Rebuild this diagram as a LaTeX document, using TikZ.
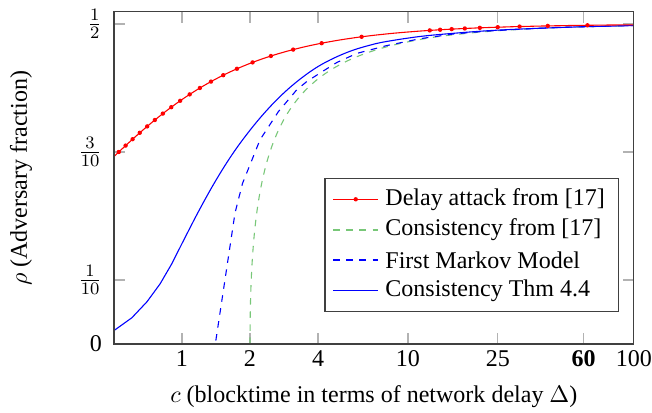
\documentclass[tikz,border=0pt]{standalone}
\usepackage{fontspec}
\setmainfont{Liberation Serif}
\definecolor{pssgreen}{rgb}{0.47,0.78,0.47}
\begin{document}
\begin{tikzpicture}[x=1.0948cm,y=10.304cm,
    font=\fontsize{11pt}{13pt}\selectfont,
    frame/.style={black!75,line width=0.5pt},
    tickmk/.style={gray!60,line width=0.6pt},
    delaycurve/.style={red,line width=0.5pt},
    psscurve/.style={pssgreen,dashed,line width=0.5pt},
    markovcurve/.style={blue,dashed,line width=0.5pt},
    thmcurve/.style={blue,line width=0.5pt}]
  \useasboundingbox (-2.6765,-0.1078) rectangle (6.9118,0.5375);
  % ticks, inside the box
  \foreach \t in {0,1,2,3.3219,4.6439,5.9069} {
    \draw[tickmk] (\t,0) -- (\t,0.0172);
    \draw[tickmk] (\t,0.519) -- (\t,0.5018);
  }
  \foreach \t in {0.1,0.3,0.5} {
    \draw[tickmk] (-1,\t) -- (-0.838,\t);
    \draw[tickmk] (6.6439,\t) -- (6.4819,\t);
  }
  % curves
  \begin{scope}
    \clip (-1,-0.006) rectangle (6.6439,0.519);
    \draw[psscurve] plot[domain=0:0.98995,samples=100]
      ({1-ln(1-\x*\x)/ln(2)},{\x/(1+\x)});
    \draw[markovcurve] plot coordinates {(-1,0) (0.49,0) (0.78,0.205)
      (0.89,0.251) (1.0,0.28) (1.147,0.319) (1.417,0.363) (1.686,0.397)
      (1.834,0.41) (2.054,0.425) (2.28,0.44) (2.57,0.454) (3,0.466)
      (3.5,0.477) (4,0.4845) (4.5,0.489) (5,0.492) (5.5,0.4945)
      (6,0.496) (6.644,0.4975)};
    \draw[thmcurve] plot coordinates {(-1,0.021) (-0.737,0.041)
      (-0.515,0.066) (-0.322,0.094) (-0.152,0.125) (0,0.157)}
      plot[smooth,tension=0.6] coordinates {(0,0.157) (0.25,0.2085)
      (0.5,0.256) (0.75,0.298) (1.0,0.334) (1.25,0.3655) (1.5,0.3925)
      (1.75,0.415) (2.0,0.4335) (2.25,0.4475) (2.5,0.4585) (2.75,0.4665)
      (3.0,0.4725) (3.5,0.4805) (4.0,0.4855) (4.5,0.4895) (5.0,0.4922)
      (5.5,0.4943) (6.0,0.496) (6.644,0.4975)};
    \draw[delaycurve] plot[domain=-1:6.6439,samples=120]
      (\x,{2/(2+1/pow(2,\x)+sqrt(4+1/pow(2,\x)^2))});
    \foreach \k in {30,...,49}
      \fill[red] ({ln(\k/100*(1-\k/100)/(1-2*\k/100))/ln(2)},{\k/100}) circle (1pt);
    \foreach \k in {491,...,498}
      \fill[red] ({ln(\k/1000*(1-\k/1000)/(1-2*\k/1000))/ln(2)},{\k/1000}) circle (1pt);
  \end{scope}
  \draw[frame] (-1,0) rectangle (6.6439,0.519);
  % tick labels
  \foreach \t/\lab [count=\i] in {0/1,1/2,2/4,3.3219/10,4.6439/25,5.9069/\textbf{60},6.6439/100}
    \node[anchor=base,inner sep=0pt] (xt\i) at (\t,-0.0355) {\lab};
  \foreach \t/\lab [count=\i] in {0/0,0.1/$\frac{1}{10}$,0.3/$\frac{3}{10}$,0.5/$\frac{1}{2}$}
    \node[anchor=east,inner sep=0pt] (yt\i) at (-1.17,\t) {\lab};
  % axis labels
  \node[anchor=base] (xlab) at (2.822,-0.0922) {$c$ (blocktime in terms of network delay $\Delta$)};
  \node[rotate=90] (ylab) at (-2.368,0.259) {$\rho$ (Adversary fraction)};
  % legend
  \draw[frame,fill=white] (2.103,0.0505) rectangle (6.416,0.2589);
  \draw[delaycurve] (2.225,0.2261) -- (2.885,0.2261);
  \fill[red] (2.555,0.2261) circle (1pt);
  \draw[psscurve] (2.225,0.1781) -- (2.885,0.1781);
  \draw[markovcurve] (2.225,0.1313) -- (2.885,0.1313);
  \draw[thmcurve] (2.225,0.0833) -- (2.885,0.0833);
  \node[anchor=west,inner sep=0pt] (legDelay) at (2.985,0.2261) {Delay attack from [17]};
  \node[anchor=west,inner sep=0pt] (legPss) at (2.985,0.1781) {Consistency from [17]};
  \node[anchor=west,inner sep=0pt] (legMarkov) at (2.985,0.1313) {First Markov Model};
  \node[anchor=west,inner sep=0pt] (legThm) at (2.985,0.0833) {Consistency Thm 4.4};
\end{tikzpicture}
\end{document}
